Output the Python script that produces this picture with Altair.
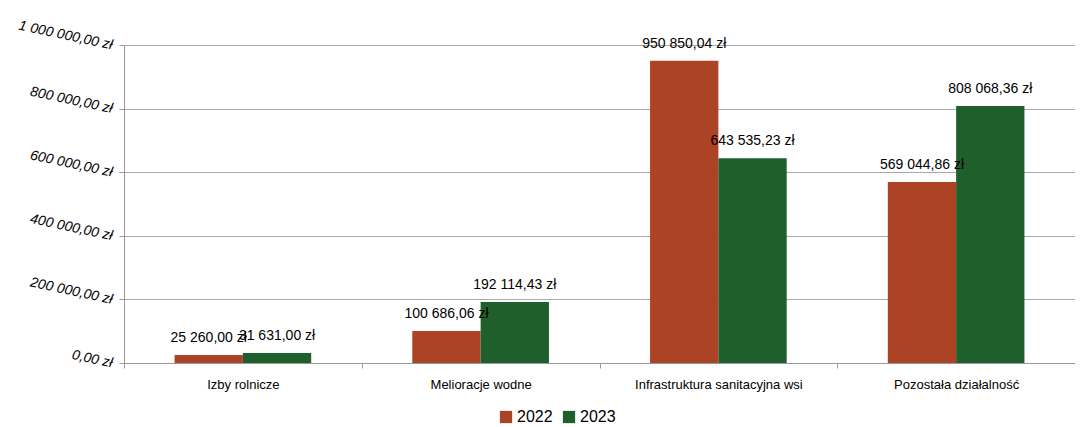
import altair as alt
import pandas as pd

categories = ["Izby rolnicze", "Melioracje wodne", "Infrastruktura sanitacyjna wsi", "Pozostała działalność"]
years = ["2022", "2023"]
values_2022 = [25260.00, 100686.06, 950850.04, 569044.86]
values_2023 = [31631.00, 192114.43, 643535.23, 808068.36]
colors = ["#AD4325", "#1F5F2B"]

def fmt(v):
    s = f"{v:,.2f}"
    return s.replace(",", " ").replace(".", ",") + " zł"

rows = []
for c, a, b in zip(categories, values_2022, values_2023):
    rows.append({"cat": c, "year": "2022", "value": a, "label": fmt(a)})
    rows.append({"cat": c, "year": "2023", "value": b, "label": fmt(b)})
df = pd.DataFrame(rows)

FONT = "Liberation Sans"
W = 951

x = alt.X("cat:N", sort=categories, title=None,
          scale=alt.Scale(paddingInner=0, paddingOuter=0),
          axis=alt.Axis(labelAngle=0, labelFontSize=13, labelFont=FONT, labelColor="#000000",
                        domainColor="#999999", tickColor="#999999", tickSize=5,
                        tickBand="extent", labelPadding=10))
xoff = alt.XOffset("year:N", sort=years,
                   scale=alt.Scale(paddingInner=0, paddingOuter=0.74))
y = alt.Y("value:Q", title=None,
          scale=alt.Scale(domain=[0, 1000000], nice=False),
          axis=alt.Axis(values=[0, 200000, 400000, 600000, 800000, 1000000],
                        labelExpr="replace(replace(format(datum.value, ',.2f'), regexp(',', 'g'), ' '), '.', ',') + ' zł'",
                        labelAngle=12, labelAlign="right", labelBaseline="middle",
                        labelFontStyle="italic", labelFontSize=14, labelFont=FONT,
                        labelColor="#000000", labelPadding=7,
                        domainColor="#999999", tickColor="#999999", tickSize=5,
                        gridColor="#AAAAAA", gridWidth=1))
color = alt.Color("year:N", sort=years,
                  scale=alt.Scale(domain=years, range=colors),
                  legend=alt.Legend(title=None, orient="none", direction="horizontal",
                                    legendX=374, legendY=364, symbolType="square",
                                    symbolSize=150, symbolStrokeWidth=0, labelFontSize=16,
                                    labelFont=FONT, labelColor="#000000", columnPadding=8,
                                    labelOffset=3))

bars = alt.Chart(df).mark_bar().encode(x=x, xOffset=xoff, y=y, color=color)
texts = alt.Chart(df).mark_text(baseline="bottom", dy=-10, fontSize=14, font=FONT,
                                color="#000000").encode(
    x=alt.X("cat:N", sort=categories), xOffset=alt.XOffset("year:N", sort=years),
    y="value:Q", text="label:N")

chart = alt.layer(bars, texts).properties(
    width=W, height=318,
    autosize=alt.AutoSizeParams(type="none"),
    padding={"left": 116, "top": 37, "right": 0, "bottom": 64},
).configure_view(stroke=None).configure(background="#FFFFFF")

chart.save("out.html", embed_options={"renderer": "svg", "actions": False})
